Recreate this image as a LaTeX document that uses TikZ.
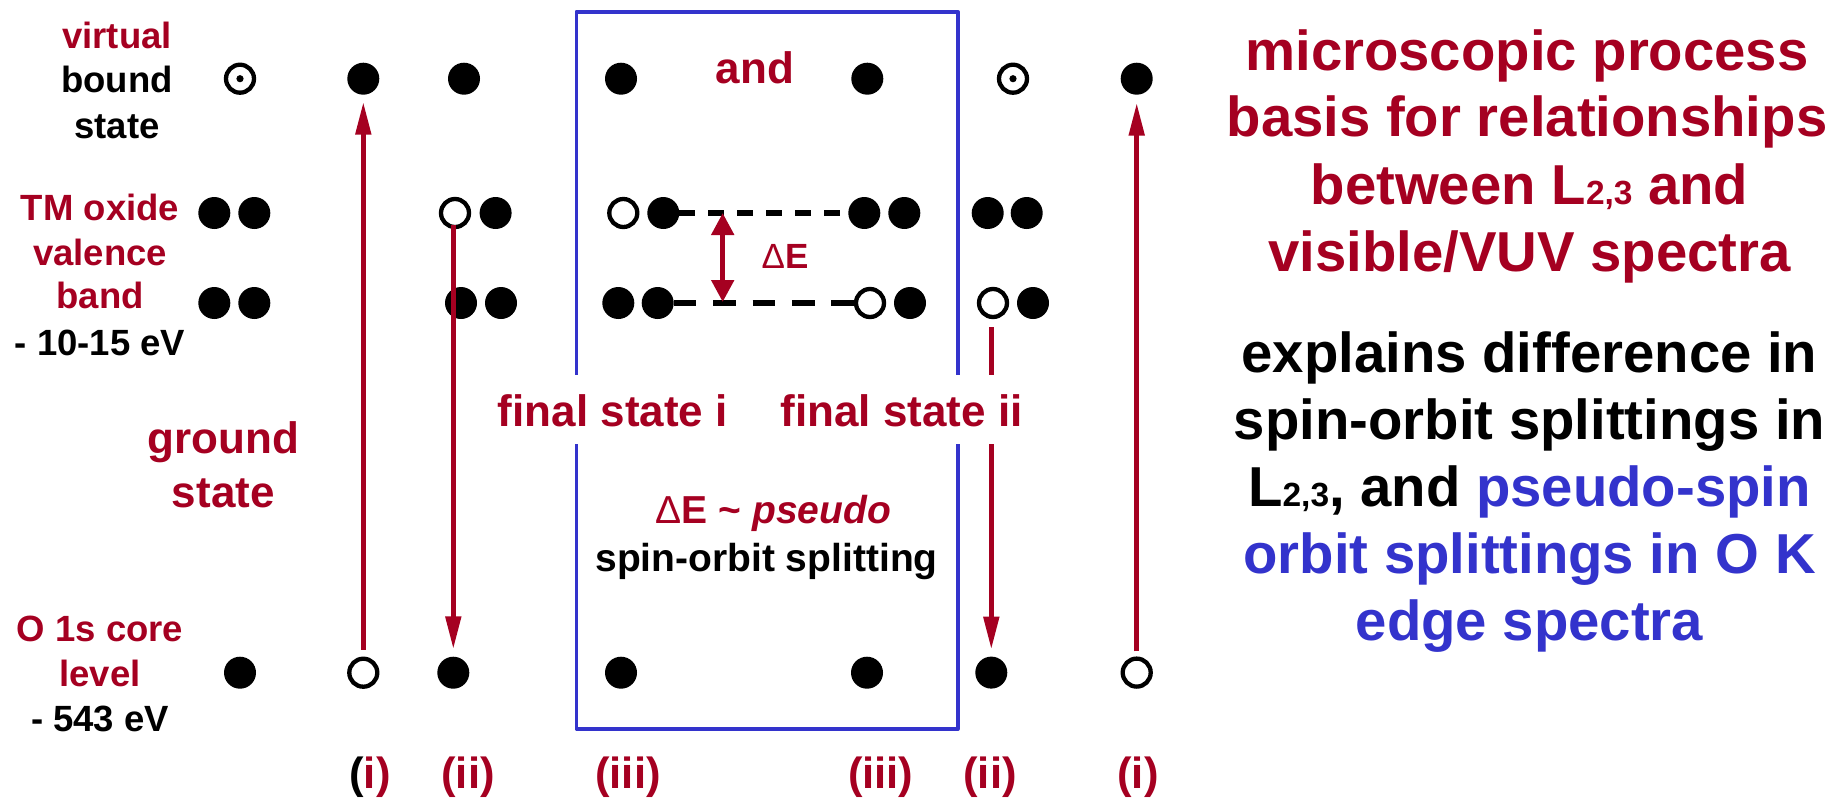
\documentclass[tikz,border=0pt]{standalone}
\usepackage{fontspec}
\setmainfont{Liberation Sans}
\usetikzlibrary{arrows.meta}
\definecolor{wine}{HTML}{A50021}
\definecolor{ink}{HTML}{3333CC}
\newcommand\lsub[1]{{\fontsize{33.5}{33.5}\selectfont #1}}
\newcommand\thinDelta{{\mdseries\symbol{"0394}}}

\begin{document}
\begin{tikzpicture}[x=1pt,y=-1pt,
  full/.style={circle,fill=black,minimum size=32pt,inner sep=0pt,outer sep=0pt},
  hole/.style={circle,draw=black,fill=white,line width=4.3pt,minimum size=28pt,inner sep=0pt},
  virt/.style={hole,path picture={\fill[black] (path picture bounding box.center) circle (3.6pt);}},
  lab/.style={font=\fontsize{36.5}{44}\selectfont\bfseries,inner sep=0pt,anchor=base},
  biglab/.style={font=\fontsize{44}{50}\selectfont\bfseries,inner sep=0pt,anchor=base},
  midlab/.style={font=\fontsize{39}{46}\selectfont\bfseries,inner sep=0pt,anchor=base},
  collab/.style={font=\fontsize{43.6}{50}\selectfont\bfseries,inner sep=0pt,anchor=base,text=wine},
  sidelab/.style={font=\fontsize{56.3}{66}\selectfont\bfseries,inner sep=0pt,anchor=base},
  gaplab/.style={biglab,text=wine,fill=white,inner xsep=3pt,inner ysep=0pt,text height=51.7pt,text depth=17.3pt},
  transition/.style={draw=wine,line width=5pt,-{Triangle[length=33pt,width=15pt]}},
  split/.style={draw=wine,line width=5pt,{Triangle[length=22pt,width=22pt]}-{Triangle[length=22pt,width=22pt]}},
  level/.style={draw=black,line width=5.5pt}
]
% canvas
\fill[white] (0,0) rectangle (1848,801);
\path[use as bounding box] (0,0) rectangle (1848,801);

% ---------- electrons: reference column ----------
\node[virt] (aV) at (240,78.7) {};
\node[full] (aT1) at (214.3,213) {};
\node[full] (aT1b) at (254.3,213) {};
\node[full] (aT2) at (214.3,303) {};
\node[full] (aT2b) at (254.3,303) {};
\node[full] (aC) at (240,672.7) {};

% ---------- process (i), left ----------
\node[full] (iLV) at (363.3,78.7) {};
\node[hole] (iLC) at (363.3,672.7) {};

% ---------- process (ii), left ----------
\node[full] (iiLV) at (464,78.7) {};
\node[hole] (iiLT1) at (455,213) {};
\node[full] (iiLT1b) at (495.6,213) {};
\node[full] (iiLT2) at (461,303) {};
\node[full] (iiLT2b) at (501,303) {};
\node[full] (iiLC) at (453.3,672.7) {};

% ---------- final state i ----------
\node[full] (fiV) at (621,78.7) {};
\node[hole] (fiT1) at (623.3,213) {};
\node[full] (fiT1b) at (663.3,213) {};
\node[full] (fiT2) at (618.3,303) {};
\node[full] (fiT2b) at (657.7,303) {};
\node[full] (fiC) at (621,672.7) {};

% ---------- final state ii ----------
\node[full] (fjV) at (867.3,78.7) {};
\node[full] (fjT1) at (864.3,213) {};
\node[full] (fjT1b) at (904.3,213) {};
\node[hole] (fjT2) at (870,303) {};
\node[full] (fjT2b) at (910,303) {};
\node[full] (fjC) at (867,672.7) {};

% ---------- process (ii), right ----------
\node[virt] (iiRV) at (1013,78.7) {};
\node[full] (iiRT1) at (987.7,213) {};
\node[full] (iiRT1b) at (1026.7,213) {};
\node[hole] (iiRT2) at (993,303) {};
\node[full] (iiRT2b) at (1033,303) {};
\node[full] (iiRC) at (991.3,672.6) {};

% ---------- process (i), right ----------
\node[full] (iRV) at (1136.7,78.7) {};
\node[hole] (iRC) at (1136.7,672.6) {};

% ---------- frame round the two final states ----------
\draw[ink,line width=3.8pt,line join=round] (576.5,11.7) rectangle (957.7,729);

% ---------- dashed levels and their splitting ----------
\draw[level,dash pattern=on 16pt off 13pt] (fiT1b.east) -- (fjT1.west);
\draw[level,dash pattern=on 22.7pt off 16.7pt] (fiT2b.east) -- (fjT2.west);
\coordinate (sTop) at (722.7,213);
\coordinate (sBot) at (722.7,302);
\draw[split] (sTop) -- (sBot);

% ---------- transitions ----------
\draw[transition,shorten <=6.7pt,shorten >=7pt] (iLC.north) -- (iLV.south);
\draw[transition,shorten <=-4pt,shorten >=7.4pt] (iiLC |- iiLT1.south) -- (iiLC.north);
\draw[transition,shorten <=8pt,shorten >=7pt] (iiRC |- iiRT2.south) -- (iiRC.north);
\draw[transition,shorten <=5pt,shorten >=8pt] (iRC.north) -- (iRV.south);

% ---------- level labels ----------
\node[lab,text=wine] (tVirt) at (117,48.3) {virtual};
\node[lab] (tBound) at (117,92.7) {bound};
\node[lab] (tState) at (117,138) {state};
\node[lab,text=wine] (tTM) at (100,220) {TM oxide};
\node[lab,text=wine] (tVal) at (100,265) {valence};
\node[lab,text=wine] (tBand) at (100,308) {band};
\node[lab] (tVE) at (100,355) {- 10-15 eV};
\node[lab,text=wine] (tO) at (100,641.7) {O 1s core};
\node[lab,text=wine] (tLev) at (100,686.7) {level};
\node[lab] (tCE) at (100,731.7) {- 543 eV};
\node[biglab,text=wine] (tGround) at (223.3,453) {ground};
\node[biglab,text=wine] (tGState) at (223.3,507) {state};

% ---------- labels in the frame ----------
\node[biglab,text=wine] (tAnd) at (755,83.3) {and};
\node[font=\fontsize{35}{40}\selectfont\bfseries,inner sep=0pt,anchor=base,text=wine] (tDE) at (785,268.3) {\thinDelta E};
\node[gaplab] (tFi) at (612.8,426.7) {final state i};
\node[gaplab] (tFj) at (901.5,426.7) {final state ii};
\node[midlab,text=wine] (tPs) at (773.5,523.3) {\thinDelta E \char`~{} \textit{pseudo}};
\node[midlab] (tSO) at (766.5,571.7) {spin-orbit splitting};

% ---------- column labels ----------
\node[collab] (c1) at (370,788) {\textcolor{black}{(}i)};
\node[collab] (c2) at (468,788) {(ii)};
\node[collab] (c3) at (628,788) {(iii)};
\node[collab] (c4) at (880.7,788) {(iii)};
\node[collab] (c5) at (990,788) {(ii)};
\node[collab] (c6) at (1138,788) {(i)};

% ---------- side text ----------
\node[sidelab,text=wine] (r1) at (1527,70) {microscopic process};
\node[sidelab,text=wine] (r2) at (1527,136.7) {basis for relationships};
\node[sidelab,text=wine] (r3) at (1529.5,204) {between L\lsub{2,3} and};
\node[sidelab,text=wine] (r4) at (1529.5,271.7) {visible/VUV spectra};
\node[sidelab] (r5) at (1529.5,372.2) {explains difference in};
\node[sidelab] (r6) at (1529.5,439.3) {spin-orbit splittings in};
\node[sidelab] (r7) at (1529.5,506.7) {L\lsub{2,3}, and \textcolor{ink}{pseudo-spin}};
\node[sidelab,text=ink] (r8) at (1529.5,573.3) {orbit splittings in O K};
\node[sidelab,text=ink] (r9) at (1529.5,640.7) {edge spectra};
\end{tikzpicture}
\end{document}
